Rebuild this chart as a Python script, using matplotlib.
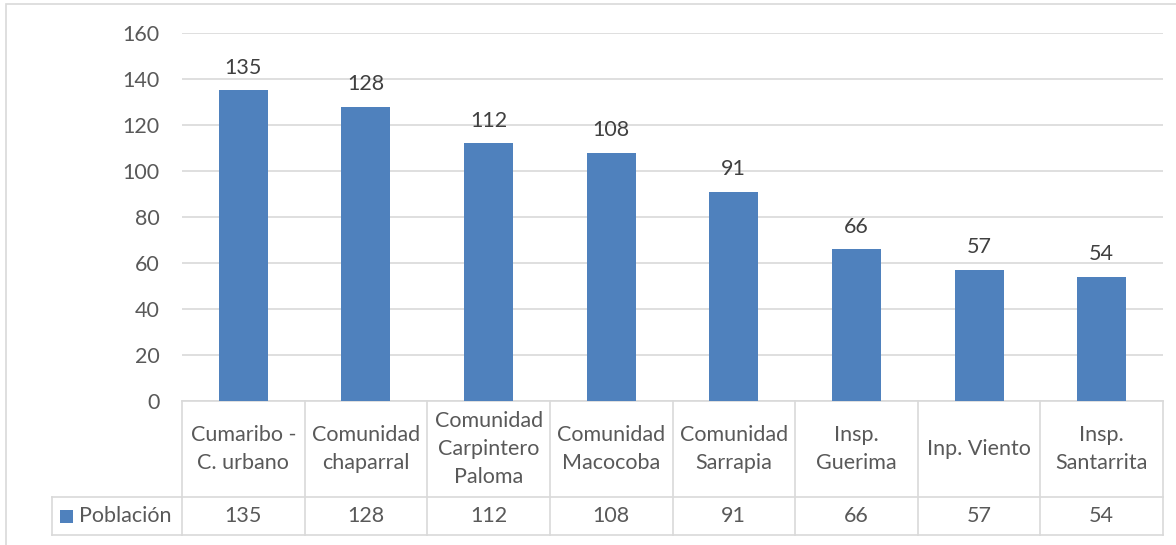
import matplotlib.pyplot as plt
from matplotlib.patches import Rectangle

categories = ["Cumaribo -\nC. urbano", "Comunidad\nchaparral", "Comunidad\nCarpintero\nPaloma",
              "Comunidad\nMacocoba", "Comunidad\nSarrapia", "Insp.\nGuerima", "Inp. Viento",
              "Insp.\nSantarrita"]
poblacion = [135, 128, 112, 108, 91, 66, 57, 54]
series_name = "Población"
yticks = [0, 20, 40, 60, 80, 100, 120, 140, 160]

BAR = "#4F81BD"
TXT = "#595959"
GRID = "#D9D9D9"
FS = 15.5


def main():
    plt.rcParams['font.family'] = ['Lato', 'DejaVu Sans']
    fig = plt.figure(figsize=(11.76, 5.45), dpi=100)
    W, H = 1176, 545
    ax = fig.add_axes([182 / W, 1 - 401 / H, 981 / W, 368 / H])

    # chart area frame
    fig.add_artist(Rectangle((6 / W, -0.05), 1.2, 1 - 4 / H + 0.05, transform=fig.transFigure,
                             fill=False, edgecolor=GRID, linewidth=1.2))

    x = range(len(categories))
    ax.bar(x, poblacion, width=0.4, color=BAR, zorder=3)
    for i, v in zip(x, poblacion):
        ax.annotate(str(v), (i, v), xytext=(0, 9), textcoords="offset points",
                    ha="center", va="bottom", fontsize=FS, color="#404040")

    ax.set_xlim(-0.5, len(categories) - 0.5)
    ax.set_ylim(0, 160)
    ax.set_yticks(yticks)
    ax.tick_params(axis="y", length=0, pad=16, labelsize=FS, labelcolor=TXT)
    ax.set_xticks([])
    ax.grid(axis="y", color=GRID, linewidth=1.2, zorder=0)
    for s in ax.spines.values():
        s.set_visible(False)

    # data table below the axis
    tr = ax.get_xaxis_transform()
    y1, y2 = -96 / 368, -134 / 368
    n = len(categories)
    kw = dict(color=GRID, linewidth=1.2, clip_on=False)
    ax.plot([-0.5, n - 0.5], [0, 0], transform=tr, **kw)
    ax.plot([-0.5, n - 0.5], [y2, y2], transform=tr, **kw)
    ax.plot([-0.5, n - 0.5], [y1, y1], transform=tr, **kw)
    for b in range(n + 1):
        ax.plot([b - 0.5, b - 0.5], [0, y2], transform=tr, **kw)
    for i, (c, v) in enumerate(zip(categories, poblacion)):
        ax.text(i, y1 / 2, c, transform=tr, ha="center", va="center",
                fontsize=FS, color=TXT, linespacing=1.5)
        ax.text(i, (y1 + y2) / 2, str(v), transform=tr, ha="center", va="center",
                fontsize=FS, color=TXT)

    # legend cell
    lx = (52 - 182) / 981
    ta = ax.transAxes
    ax.plot([lx, 0], [y1, y1], transform=ta, **kw)
    ax.plot([lx, 0], [y2, y2], transform=ta, **kw)
    ax.plot([lx, lx], [y1, y2], transform=ta, **kw)
    ym = (y1 + y2) / 2
    ax.add_patch(Rectangle((lx + 8 / 981, ym - 6.5 / 368), 13 / 981, 13 / 368, transform=ta,
                           facecolor=BAR, edgecolor="none", clip_on=False))
    ax.text(lx + 27 / 981, ym, series_name, transform=ta, ha="left", va="center",
            fontsize=FS, color=TXT)

    fig.savefig("out.png", dpi=100)


if __name__ == "__main__":
    main()
